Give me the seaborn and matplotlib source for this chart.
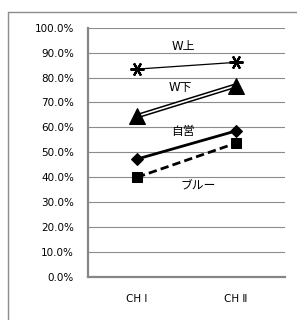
import numpy as np
import pandas as pd
import matplotlib
matplotlib.use("Agg")
import matplotlib.pyplot as plt
from matplotlib.lines import Line2D
import seaborn as sns

# Data
categories = ["CH Ⅰ", "CH Ⅱ"]
w_upper = [83.4, 86.1]
w_lower = [64.5, 76.8]
self_emp = [47.3, 58.6]
blue = [40.0, 53.7]

sns.set_theme(style="white")
plt.rcParams['font.family'] = ['DejaVu Sans', 'Noto Sans CJK JP']

fig = plt.figure(figsize=(2.97, 3.2), dpi=100)
ax = fig.add_axes([0.2963, 0.1344, 0.6633, 0.779])

grid_col = "#8c8c8c"
for v in np.arange(10, 101, 10):
    ax.axhline(v, color=grid_col, lw=0.8, zorder=0)

# W上: thin line, asterisk markers
sns.lineplot(x=categories, y=w_upper, ax=ax, color="black", lw=0.9,
             marker=(6, 2, 90), markersize=10, markeredgewidth=1.6,
             markeredgecolor="black", sort=False)
# W下: double line (black wide + white inner), triangles
sns.lineplot(x=categories, y=w_lower, ax=ax, color="black", lw=3.4, sort=False)
sns.lineplot(x=categories, y=w_lower, ax=ax, color="white", lw=1.2, sort=False)
sns.lineplot(x=categories, y=w_lower, ax=ax, color="black", lw=0, marker="^",
             markersize=11.5, markeredgecolor="black", sort=False)
# 自営: thick solid, diamonds
sns.lineplot(x=categories, y=self_emp, ax=ax, color="black", lw=2.0,
             marker="D", markersize=6.5, markeredgecolor="black", sort=False)
# ブルー: thick dashed, squares
sns.lineplot(x=categories, y=blue, ax=ax, color="black", lw=2.0,
             linestyle=(0, (3, 1.5)), marker="s", markersize=6.5,
             markeredgecolor="black", sort=False)

# series labels
lab = dict(ha="center", va="center", fontsize=8.5, color="black")
ax.text(0.465, 92.4, "W上", **lab)
ax.text(0.44, 75.9, "W下", **lab)
ax.text(0.465, 58.2, "自営", **lab)
ax.text(0.62, 36.9, "ブルー", **lab)

ax.set_xlim(-0.495, 1.495)
ax.set_ylim(0, 100)
ax.set_yticks(np.arange(0, 101, 10))
ax.set_yticklabels([f"{v:.1f}%" for v in np.arange(0, 101, 10)], fontsize=7.5, color="black")
ax.set_xticks([-0.495, 0.5, 1.495], minor=False)
ax.set_xticklabels([])
ax.set_xticks([0, 1], minor=True)
ax.set_xticklabels(categories, minor=True, fontsize=7.5, color="black")
ax.tick_params(axis="x", which="minor", length=0, pad=12)
ax.tick_params(axis="x", which="major", length=4, width=1, color="#868686", direction="out")
ax.tick_params(axis="y", length=4, width=1, color="#868686", direction="out", pad=6)
ax.set_xlabel("")
ax.set_ylabel("")

for side in ["top", "right"]:
    ax.spines[side].set_visible(False)
for side in ["left", "bottom"]:
    ax.spines[side].set_color("#868686")
    ax.spines[side].set_linewidth(1.6)

# outer chart frame (top and left edges visible)
fig.add_artist(Line2D([8 / 297, 1], [1 - 12 / 320, 1 - 12 / 320], color="#8c8c8c", lw=1))
fig.add_artist(Line2D([8 / 297, 8 / 297], [0, 1 - 12 / 320], color="#8c8c8c", lw=1))

fig.savefig("out.png", dpi=100)
